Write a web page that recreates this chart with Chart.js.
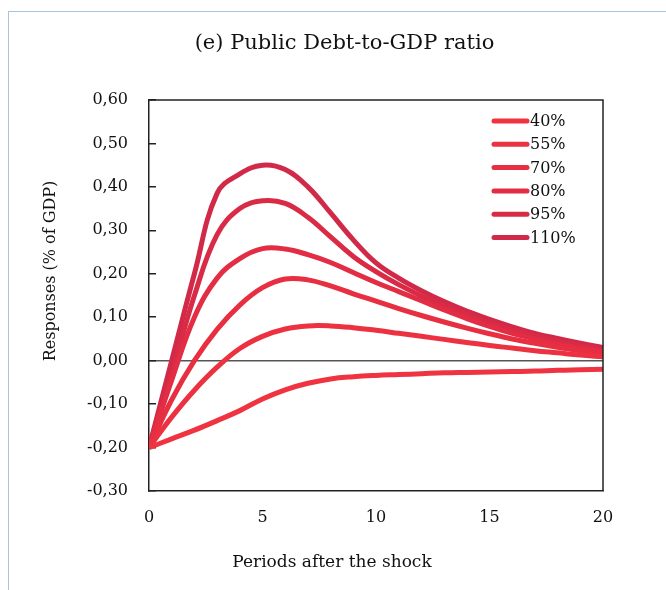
<!DOCTYPE html>
<html>
<head>
<meta charset="utf-8">
<script src="https://cdn.jsdelivr.net/npm/chart.js@4.4.1/dist/chart.umd.min.js"></script>
<style>
  html, body { margin: 0; padding: 0; background: #fff; }
  #wrap { position: relative; width: 666px; height: 590px; overflow: hidden; }
  #frame { position: absolute; left: 8px; top: 11px; width: 700px; height: 700px;
           border-top: 1.5px solid #a9c3e4; border-left: 1.5px solid #a9c3e4; box-sizing: border-box; }
  canvas { position: absolute; left: 0; top: 0; }
</style>
</head>
<body>
<div id="wrap">
  <div id="frame"></div>
  <canvas id="c" width="666" height="590"></canvas>
</div>
<script>
const periods = [0,1,2,3,4,5,6,7,8,9,10,11,12,13,14,15,16,17,18,19,20];
const seriesLabels = ['40%','55%','70%','80%','95%','110%'];
const s40  = [-0.20,-0.18,-0.16,-0.138,-0.115,-0.088,-0.067,-0.052,-0.042,-0.037,-0.034,-0.032,-0.030,-0.028,-0.027,-0.026,-0.025,-0.024,-0.022,-0.021,-0.020];
const s55  = [-0.20,-0.13,-0.068,-0.015,0.028,0.056,0.073,0.080,0.080,0.076,0.070,0.063,0.056,0.049,0.042,0.035,0.029,0.023,0.018,0.013,0.009];
const s70  = [-0.20,-0.09,0.00,0.072,0.128,0.168,0.188,0.186,0.172,0.154,0.137,0.12,0.104,0.089,0.075,0.062,0.050,0.040,0.031,0.023,0.016];
const s80  = [-0.20,-0.045,0.10,0.19,0.235,0.258,0.257,0.244,0.226,0.203,0.180,0.159,0.138,0.117,0.097,0.079,0.063,0.050,0.038,0.029,0.021];
const s95  = [-0.20,-0.03,0.15,0.29,0.35,0.368,0.362,0.33,0.285,0.24,0.205,0.175,0.149,0.126,0.105,0.087,0.071,0.057,0.045,0.034,0.025];
const s110 = [-0.20,0.00,0.20,0.385,0.43,0.45,0.44,0.40,0.34,0.278,0.225,0.19,0.161,0.136,0.114,0.095,0.078,0.063,0.051,0.040,0.030];
const yTicks = [-0.3,-0.2,-0.1,0,0.1,0.2,0.3,0.4,0.5,0.6];
const xTicks = [0,5,10,15,20];
const titleText = '(e) Public Debt-to-GDP ratio';
const xTitleText = 'Periods after the shock';
const yTitleText = 'Responses (% of GDP)';

const allSeries = [s40, s55, s70, s80, s95, s110];
const colors = ['#ef3340','#ec3141','#e82f42','#e22d44','#d92b46','#d12a49'];
const FONT = "'DejaVu Serif', serif";

const datasets = allSeries.map((s, i) => ({
  label: seriesLabels[i],
  data: s.map((v, j) => ({x: periods[j], y: v})),
  borderColor: colors[i],
  backgroundColor: colors[i],
  borderWidth: 5,
  pointRadius: 0,
  tension: 0.4,
  fill: false
}));

const boxPlugin = {
  id: 'box',
  afterDatasetsDraw(chart) {
    const {ctx, chartArea: a} = chart;
    ctx.save();
    ctx.strokeStyle = '#222';
    ctx.lineWidth = 1.5;
    ctx.beginPath();
    ctx.moveTo(a.left, a.top);
    ctx.lineTo(a.right, a.top);
    ctx.lineTo(a.right, a.bottom);
    ctx.stroke();
    ctx.restore();
  }
};

const axisTitlePlugin = {
  id: 'axisTitles',
  afterDraw(chart) {
    const {ctx, chartArea: a} = chart;
    ctx.save();
    ctx.fillStyle = '#111';
    ctx.textAlign = 'center';
    ctx.textBaseline = 'middle';
    ctx.font = "17px " + FONT;
    ctx.fillText(xTitleText, a.left + 183, a.bottom + 72);
    ctx.font = "16px " + FONT;
    ctx.translate(51, a.top + 171);
    ctx.rotate(-Math.PI / 2);
    ctx.fillText(yTitleText, 0, 0);
    ctx.restore();
  }
};

const legendPlugin = {
  id: 'innerLegend',
  afterDraw(chart) {
    const {ctx, chartArea: a} = chart;
    const x0 = a.left + 345, y0 = a.top + 21, step = 23.3;
    ctx.save();
    ctx.font = "16px " + FONT;
    ctx.textBaseline = 'middle';
    ctx.textAlign = 'left';
    chart.data.datasets.forEach((ds, i) => {
      const y = y0 + i * step;
      ctx.strokeStyle = ds.borderColor;
      ctx.lineWidth = 5;
      ctx.lineCap = 'round';
      ctx.beginPath();
      ctx.moveTo(x0, y);
      ctx.lineTo(x0 + 33, y);
      ctx.stroke();
      ctx.fillStyle = '#111';
      ctx.fillText(ds.label, x0 + 36, y + 1);
    });
    ctx.restore();
  }
};

new Chart(document.getElementById('c'), {
  type: 'line',
  data: { datasets },
  options: {
    responsive: false,
    animation: false,
    layout: { padding: { left: 86, right: 63, top: 0, bottom: 0 } },
    plugins: {
      legend: { display: false },
      tooltip: { enabled: false },
      title: {
        display: true,
        text: titleText,
        color: '#111',
        font: { family: FONT, size: 21, weight: 'normal' },
        padding: { top: 31.4, bottom: 43.4 }
      }
    },
    scales: {
      x: {
        type: 'linear',
        min: 0, max: 20,
        afterBuildTicks(scale) { scale.ticks = xTicks.map(v => ({value: v})); },
        afterFit(scale) { scale.height = 99; },
        grid: { display: false, drawTicks: false },
        border: { display: true, color: '#222', width: 1.5 },
        ticks: { color: '#111', font: { family: FONT, size: 16 }, padding: 17, maxRotation: 0 },
        title: { display: false }
      },
      y: {
        min: -0.3, max: 0.6,
        afterBuildTicks(scale) { scale.ticks = yTicks.map(v => ({value: v})); },
        afterFit(scale) { scale.width = 63; },
        grid: {
          drawOnChartArea: true,
          drawTicks: true,
          tickLength: -7,
          tickWidth: 1.5,
          tickColor: '#222',
          lineWidth: 1.5,
          color: (c) => (c.tick && Math.abs(c.tick.value) < 1e-9) ? '#555' : 'rgba(0,0,0,0)'
        },
        border: { display: true, color: '#222', width: 1.5 },
        ticks: {
          color: '#111', font: { family: FONT, size: 16 }, padding: 28,
          callback: (v) => (Math.round(v * 100) / 100).toFixed(2).replace('.', ',')
        },
        title: { display: false }
      }
    }
  },
  plugins: [boxPlugin, axisTitlePlugin, legendPlugin]
});
</script>
</body>
</html>
